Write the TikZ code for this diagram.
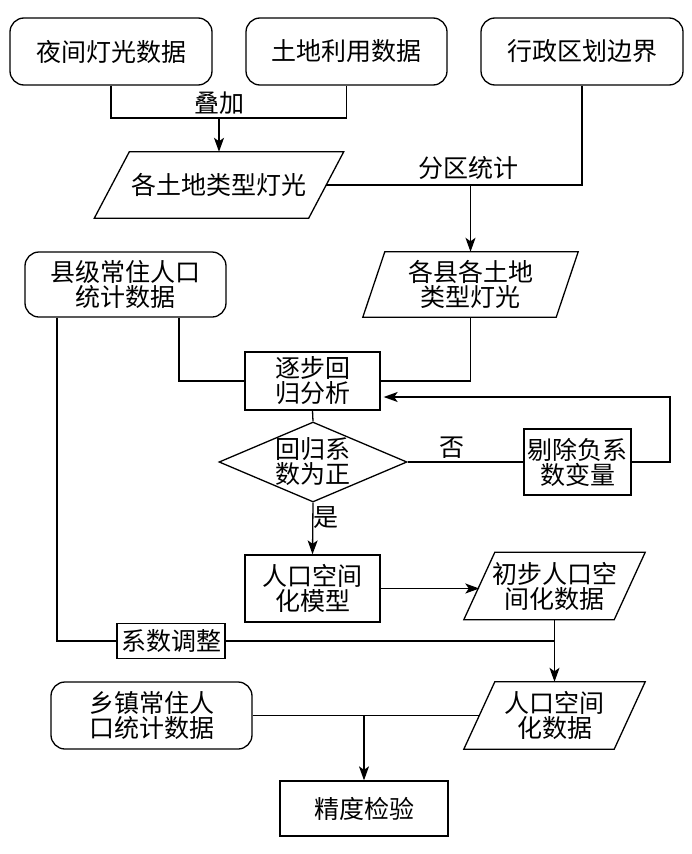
\documentclass[tikz,border=0pt]{standalone}
\usepackage{fontspec}
\setmainfont{Noto Sans CJK SC}
\usetikzlibrary{shapes.geometric,arrows.meta}
\newcommand\paradraw[2]{\draw[ln] ([xshift=#2]#1.north west) -- ([xshift=#2]#1.north east) -- ([xshift=-#2]#1.south east) -- ([xshift=-#2]#1.south west) -- cycle;}
\begin{document}
\begin{tikzpicture}[x=1pt,y=-1pt,
  every node/.style={font=\fontsize{25}{25}\selectfont, align=center, inner sep=0pt},
  ln/.style={line width=1.3pt},
  arr/.style={line width=1.3pt, -{Stealth[length=14pt,width=10pt,inset=3.5pt]}},
  rbox/.style={draw, line width=1.3pt, rounded corners=14pt, rectangle},
  sbox/.style={draw, line width=1.3pt, rectangle},
  pbox/.style={rectangle},
  dbox/.style={draw, line width=1.3pt, diamond, aspect=2.35, minimum width=188pt, minimum height=80pt}
]
\useasboundingbox (0,0) rectangle (692,854);
% top sources
\node[rbox, minimum width=202pt, minimum height=67pt] (b1) at (111,51.5) {夜间灯光数据};
\node[rbox, minimum width=201pt, minimum height=67pt] (b2) at (346.5,51.5) {土地利用数据};
\node[rbox, minimum width=202pt, minimum height=67pt] (b3) at (582,51.5) {行政区划边界};
% parallelograms
\node[pbox, minimum width=214pt, minimum height=66pt] (p1) at (219,185) {各土地类型灯光};
\node[pbox, minimum width=193pt, minimum height=65pt] (p2) at (470.5,284.5) {各县各土地\\类型灯光};
\node[pbox, minimum width=150pt, minimum height=67pt] (p3) at (554.5,586) {初步人口空\\间化数据};
\node[pbox, minimum width=150pt, minimum height=67pt] (p4) at (554.5,715.5) {人口空间\\化数据};
\paradraw{p1}{17.5pt}
\paradraw{p2}{11pt}
\paradraw{p3}{15.5pt}
\paradraw{p4}{15.5pt}
% others
\node[rbox, minimum width=201pt, minimum height=65pt] (xj) at (125.5,284.5) {县级常住人口\\统计数据};
\node[sbox, minimum width=135pt, minimum height=58pt] (zb) at (312.5,381) {逐步回\\归分析};
\node[dbox] (dm) at (313,462) {回归系\\数为正};
\node[sbox, minimum width=107pt, minimum height=66pt] (tc) at (577.5,462) {剔除负系\\数变量};
\node[sbox, minimum width=135pt, minimum height=67pt] (mx) at (312.5,588.5) {人口空间\\化模型};
\node[sbox, minimum width=108pt, minimum height=35pt] (adj) at (171,641) {系数调整};
\node[rbox, minimum width=201pt, minimum height=67pt] (xz) at (151.5,715.5) {乡镇常住人\\口统计数据};
\node[sbox, minimum width=168pt, minimum height=55pt] (jd) at (364,808.5) {精度检验};
% labels
\node (l1) at (219,103) {叠加};
\node (l2) at (468,168) {分区统计};
\node (l3) at (452,448) {否};
\node (l4) at (326,518) {是};
% connectors
\coordinate (m1) at (219,118);
\draw[ln] (b1.south) |- (m1) -| (b2.south);
\draw[arr] (m1) -- (p1.north);
\coordinate (m2) at (p2.north |- p1.east);
\draw[ln] (b3.south) |- (p1.east);
\draw[arr] (m2) -- (p2.north);
\draw[ln] ([xshift=53.5pt]xj.south) |- (zb.west);
\draw[ln] (p2.south) |- (zb.east);
\draw[ln] (zb.south) -- (dm.north);
\draw[ln] (dm.east) -- (tc.west);
\coordinate (fb) at (670,397);
\draw[arr] (tc.east) -| (fb) -- ([xshift=3pt]fb -| zb.east);
\draw[arr] (dm.south) -- (mx.north);
\draw[arr] (mx.east) -- (mx.east -| p3.west);
\draw[ln] ([xshift=-68.5pt]xj.south) |- (adj.west);
\draw[ln] (adj.east) -- (adj.east -| p3.south);
\draw[arr] (p3.south) -- (p4.north);
\draw[ln] (xz.east) -- (p4.west);
\coordinate (m3) at (jd.north |- xz.east);
\draw[arr] (m3) -- (jd.north);
\end{tikzpicture}
\end{document}
